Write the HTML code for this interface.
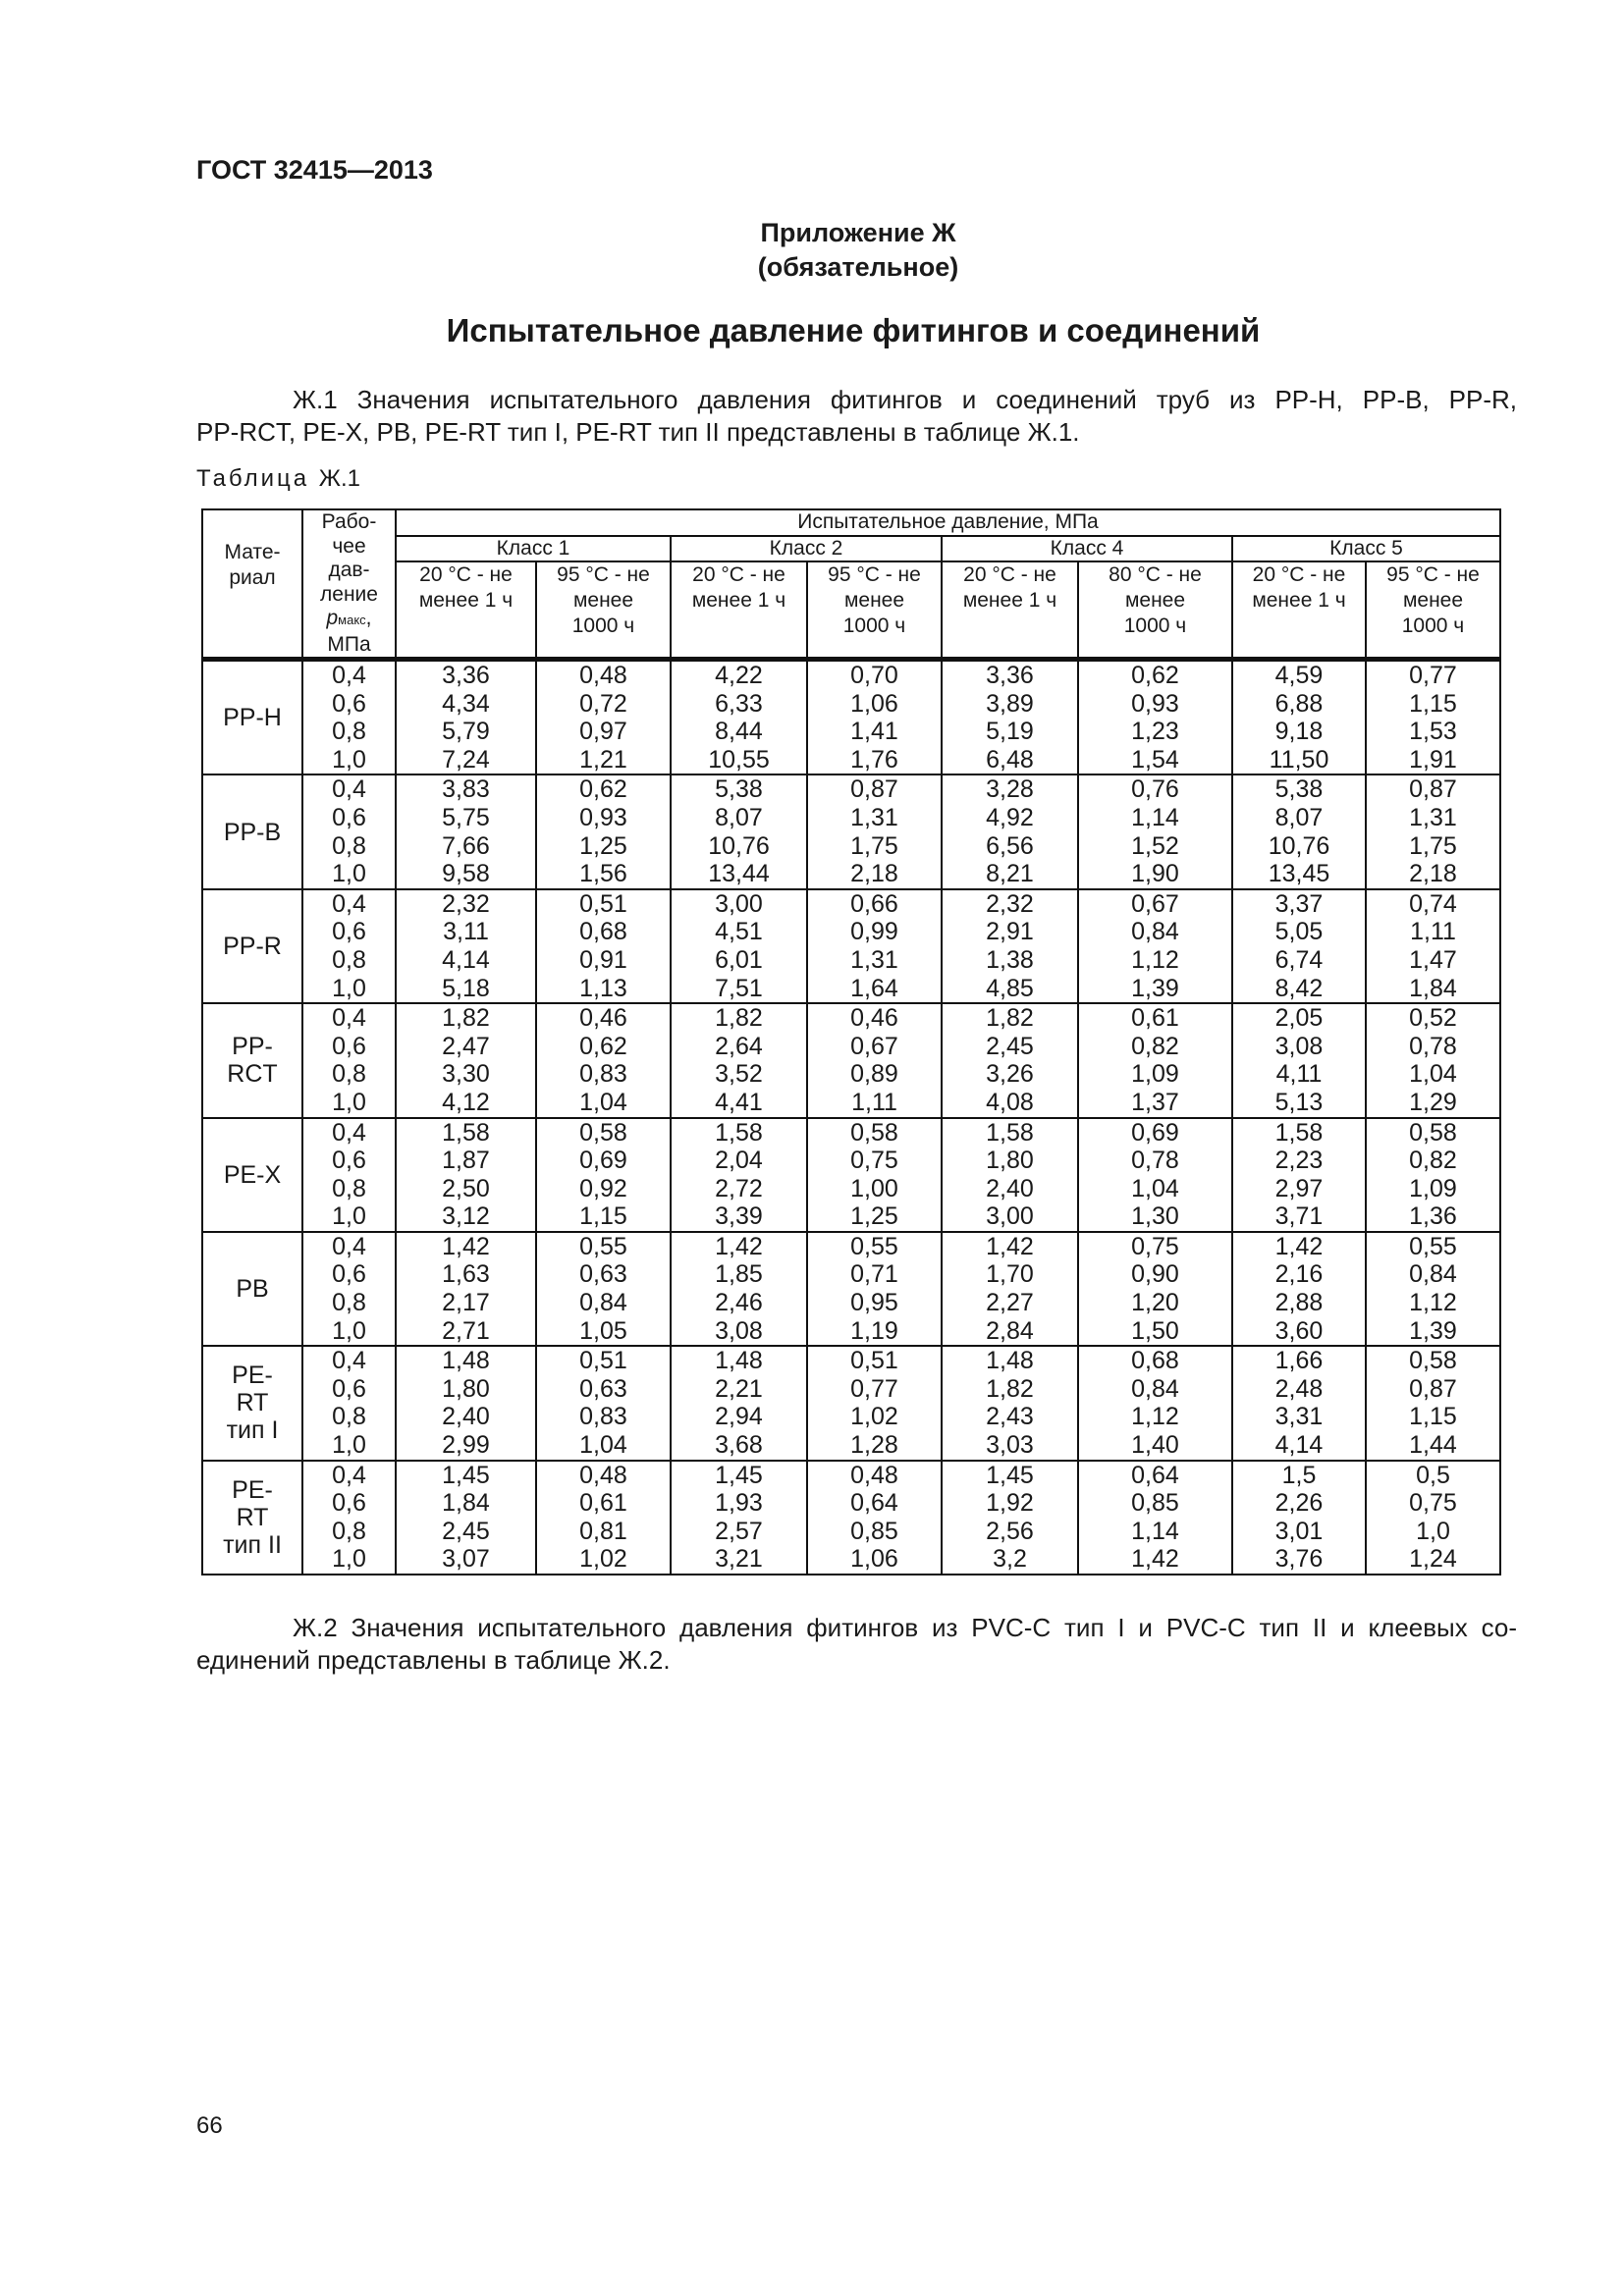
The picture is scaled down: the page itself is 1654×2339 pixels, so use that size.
<!DOCTYPE html>
<html><head><meta charset="utf-8">
<style>
body{margin:0;background:#fff;}
#p{position:relative;width:1654px;height:2339px;overflow:hidden;color:#1a1a1a;font-family:"Liberation Sans","DejaVu Sans",sans-serif;}
.a{position:absolute;white-space:nowrap;}
.b{font-weight:bold;}
.para{position:absolute;left:200px;width:1345px;font-size:26px;line-height:33px;}
.j{text-align:justify;text-align-last:justify;white-space:nowrap;}
table{position:absolute;left:205px;top:518px;width:1322px;border-collapse:collapse;font-family:"Liberation Sans Narrow","Liberation Sans",sans-serif;table-layout:fixed;}
td{border:2px solid #111;text-align:center;padding:0;}
.h{font-size:21px;line-height:26px;vertical-align:top;}
.d td{font-size:25px;line-height:28.6px;height:110px;vertical-align:middle;}
.d td.m{line-height:28px;}
</style></head><body><div id="p">
<div class="a b" style="left:200px;top:158px;font-size:27px;">ГОСТ 32415—2013</div>
<div class="a b" style="left:0;width:1748px;text-align:center;top:220px;font-size:27px;line-height:35px;">Приложение Ж<br>(обязательное)</div>
<div class="a b" style="left:0;width:1738px;text-align:center;top:318px;font-size:33px;">Испытательное давление фитингов и соединений</div>
<div class="para" style="top:391px;"><div class="j" style="padding-left:98px;">Ж.1 Значения испытательного давления фитингов и соединений труб из PP-H, PP-B, PP-R,</div><div>PP-RCT, PE-X, PB, PE-RT тип I, PE-RT тип II представлены в таблице Ж.1.</div></div>
<div class="a" style="left:200px;top:474px;font-size:24px;letter-spacing:3px;">Таблица <span style="letter-spacing:0">Ж.1</span></div>
<table>
<colgroup><col style="width:102px"><col style="width:95px"><col style="width:143px"><col style="width:137px"><col style="width:139px"><col style="width:137px"><col style="width:139px"><col style="width:157px"><col style="width:136px"><col style="width:137px"></colgroup>
<tr style="height:26px"><td class="h" rowspan="3" style="padding-top:30px">Мате-<br>риал</td><td class="h" rowspan="3" style="line-height:24.5px">Рабо-<br>чее<br>дав-<br>ление<br><i>p</i><span style="font-size:13px">макс</span>,<br>МПа</td><td class="h" colspan="8" style="line-height:24px">Испытательное давление, МПа</td></tr>
<tr style="height:25px"><td class="h" colspan="2" style="line-height:23px">Класс 1</td><td class="h" colspan="2" style="line-height:23px">Класс 2</td><td class="h" colspan="2" style="line-height:23px">Класс 4</td><td class="h" colspan="2" style="line-height:23px">Класс 5</td></tr>
<tr style="height:97px"><td class="h">20 °C - не<br>менее 1 ч</td><td class="h">95 °C - не<br>менее<br>1000 ч</td><td class="h">20 °C - не<br>менее 1 ч</td><td class="h">95 °C - не<br>менее<br>1000 ч</td><td class="h">20 °C - не<br>менее 1 ч</td><td class="h">80 °C - не<br>менее<br>1000 ч</td><td class="h">20 °C - не<br>менее 1 ч</td><td class="h">95 °C - не<br>менее<br>1000 ч</td></tr>
<tbody class="d" style="border-top:5px solid #111">
<tr><td class="m">PP-H</td><td>0,4<br>0,6<br>0,8<br>1,0</td><td>3,36<br>4,34<br>5,79<br>7,24</td><td>0,48<br>0,72<br>0,97<br>1,21</td><td>4,22<br>6,33<br>8,44<br>10,55</td><td>0,70<br>1,06<br>1,41<br>1,76</td><td>3,36<br>3,89<br>5,19<br>6,48</td><td>0,62<br>0,93<br>1,23<br>1,54</td><td>4,59<br>6,88<br>9,18<br>11,50</td><td>0,77<br>1,15<br>1,53<br>1,91</td></tr>
<tr><td class="m">PP-B</td><td>0,4<br>0,6<br>0,8<br>1,0</td><td>3,83<br>5,75<br>7,66<br>9,58</td><td>0,62<br>0,93<br>1,25<br>1,56</td><td>5,38<br>8,07<br>10,76<br>13,44</td><td>0,87<br>1,31<br>1,75<br>2,18</td><td>3,28<br>4,92<br>6,56<br>8,21</td><td>0,76<br>1,14<br>1,52<br>1,90</td><td>5,38<br>8,07<br>10,76<br>13,45</td><td>0,87<br>1,31<br>1,75<br>2,18</td></tr>
<tr><td class="m">PP-R</td><td>0,4<br>0,6<br>0,8<br>1,0</td><td>2,32<br>3,11<br>4,14<br>5,18</td><td>0,51<br>0,68<br>0,91<br>1,13</td><td>3,00<br>4,51<br>6,01<br>7,51</td><td>0,66<br>0,99<br>1,31<br>1,64</td><td>2,32<br>2,91<br>1,38<br>4,85</td><td>0,67<br>0,84<br>1,12<br>1,39</td><td>3,37<br>5,05<br>6,74<br>8,42</td><td>0,74<br>1,11<br>1,47<br>1,84</td></tr>
<tr><td class="m">PP-<br>RCT</td><td>0,4<br>0,6<br>0,8<br>1,0</td><td>1,82<br>2,47<br>3,30<br>4,12</td><td>0,46<br>0,62<br>0,83<br>1,04</td><td>1,82<br>2,64<br>3,52<br>4,41</td><td>0,46<br>0,67<br>0,89<br>1,11</td><td>1,82<br>2,45<br>3,26<br>4,08</td><td>0,61<br>0,82<br>1,09<br>1,37</td><td>2,05<br>3,08<br>4,11<br>5,13</td><td>0,52<br>0,78<br>1,04<br>1,29</td></tr>
<tr><td class="m">PE-X</td><td>0,4<br>0,6<br>0,8<br>1,0</td><td>1,58<br>1,87<br>2,50<br>3,12</td><td>0,58<br>0,69<br>0,92<br>1,15</td><td>1,58<br>2,04<br>2,72<br>3,39</td><td>0,58<br>0,75<br>1,00<br>1,25</td><td>1,58<br>1,80<br>2,40<br>3,00</td><td>0,69<br>0,78<br>1,04<br>1,30</td><td>1,58<br>2,23<br>2,97<br>3,71</td><td>0,58<br>0,82<br>1,09<br>1,36</td></tr>
<tr><td class="m">PB</td><td>0,4<br>0,6<br>0,8<br>1,0</td><td>1,42<br>1,63<br>2,17<br>2,71</td><td>0,55<br>0,63<br>0,84<br>1,05</td><td>1,42<br>1,85<br>2,46<br>3,08</td><td>0,55<br>0,71<br>0,95<br>1,19</td><td>1,42<br>1,70<br>2,27<br>2,84</td><td>0,75<br>0,90<br>1,20<br>1,50</td><td>1,42<br>2,16<br>2,88<br>3,60</td><td>0,55<br>0,84<br>1,12<br>1,39</td></tr>
<tr><td class="m">PE-<br>RT<br>тип I</td><td>0,4<br>0,6<br>0,8<br>1,0</td><td>1,48<br>1,80<br>2,40<br>2,99</td><td>0,51<br>0,63<br>0,83<br>1,04</td><td>1,48<br>2,21<br>2,94<br>3,68</td><td>0,51<br>0,77<br>1,02<br>1,28</td><td>1,48<br>1,82<br>2,43<br>3,03</td><td>0,68<br>0,84<br>1,12<br>1,40</td><td>1,66<br>2,48<br>3,31<br>4,14</td><td>0,58<br>0,87<br>1,15<br>1,44</td></tr>
<tr><td class="m">PE-<br>RT<br>тип II</td><td>0,4<br>0,6<br>0,8<br>1,0</td><td>1,45<br>1,84<br>2,45<br>3,07</td><td>0,48<br>0,61<br>0,81<br>1,02</td><td>1,45<br>1,93<br>2,57<br>3,21</td><td>0,48<br>0,64<br>0,85<br>1,06</td><td>1,45<br>1,92<br>2,56<br>3,2</td><td>0,64<br>0,85<br>1,14<br>1,42</td><td>1,5<br>2,26<br>3,01<br>3,76</td><td>0,5<br>0,75<br>1,0<br>1,24</td></tr>
</tbody>
</table>
<div class="para" style="top:1642px;"><div class="j" style="padding-left:98px;">Ж.2 Значения испытательного давления фитингов из PVC-C тип I и PVC-C тип II и клеевых со-</div><div>единений представлены в таблице Ж.2.</div></div>
<div class="a" style="left:200px;top:2152px;font-size:24px;">66</div>
</div></body></html>
